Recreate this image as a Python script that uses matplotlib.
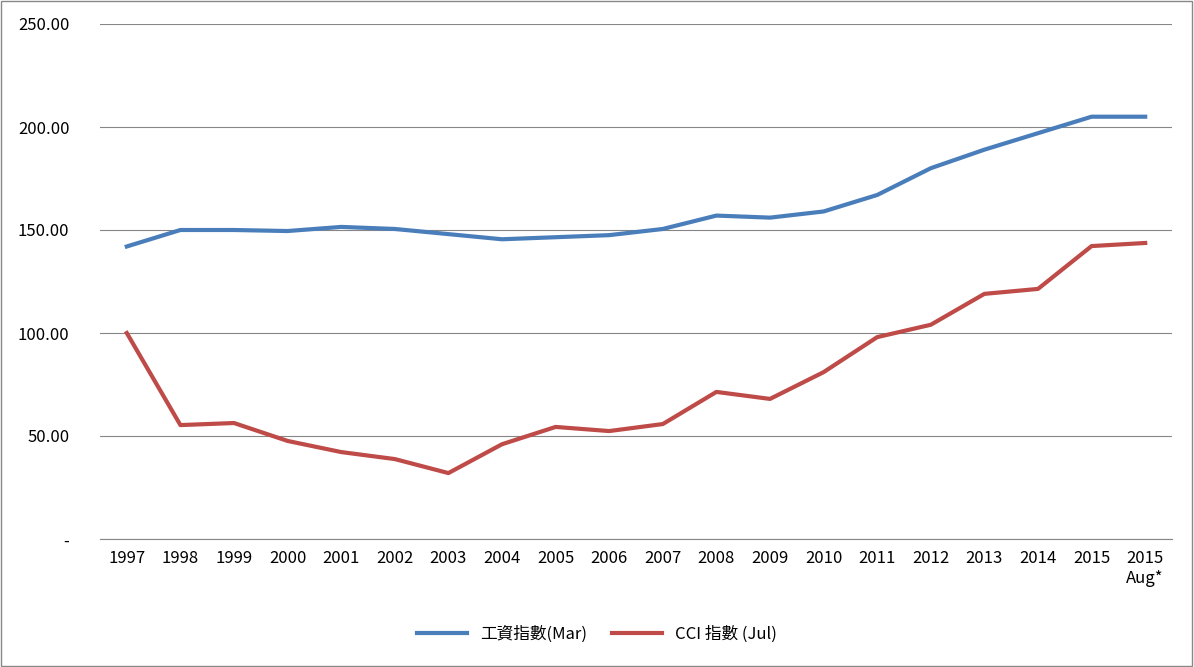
import matplotlib.pyplot as plt
from matplotlib.ticker import FuncFormatter

plt.rcParams['font.family'] = ['Noto Sans CJK TC', 'DejaVu Sans']

years = ['1997', '1998', '1999', '2000', '2001', '2002', '2003', '2004', '2005', '2006',
         '2007', '2008', '2009', '2010', '2011', '2012', '2013', '2014', '2015', '2015\nAug*']
wage_index = [142, 150, 150, 149.5, 151.5, 150.5, 148, 145.5, 146.5, 147.5,
              150.5, 157, 156, 159, 167, 180, 189, 197, 205, 205]
cci_index = [100, 55.3, 56.3, 47.6, 42.2, 38.8, 32, 46, 54.4, 52.4,
             55.8, 71.4, 68, 81, 98, 104, 119, 121.4, 142.2, 143.7]

fig = plt.figure(figsize=(11.94, 6.67), dpi=100)
ax = fig.add_axes([100/1194, 128/667, 1072/1194, 515/667])
fig.patches.append(plt.Rectangle((0.0005, 0.001), 0.998, 0.997, transform=fig.transFigure,
                                 fill=False, edgecolor='#888888', linewidth=1))

x = list(range(len(years)))
ax.plot(x, wage_index, color='#4a7ebb', linewidth=3, label='工資指數(Mar)')
ax.plot(x, cci_index, color='#be4b48', linewidth=3, label='CCI 指數 (Jul)')

ax.set_ylim(0, 250)
ax.set_yticks([0, 50, 100, 150, 200, 250])
ax.yaxis.set_major_formatter(FuncFormatter(lambda v, p: '-' if v == 0 else f'{v:.2f}'))
ax.set_xlim(-0.5, len(years) - 0.5)
ax.set_xticks(x)
ax.set_xticklabels(years)
last = ax.get_xticklabels()[-1]
last.set_multialignment('right')
last.set_horizontalalignment('left')
last.set_x(x[-1])
ax.grid(axis='y', color='#868686', linewidth=0.8)
ax.set_axisbelow(True)
for s in ['left', 'right', 'top']:
    ax.spines[s].set_visible(False)
ax.spines['bottom'].set_color('#868686')
ax.tick_params(axis='both', length=0, labelsize=12, pad=8)
ax.tick_params(axis='y', pad=22)

fig.canvas.draw()
# shift the last label so "2015" stays centred on its tick while "Aug*" is right-aligned
import matplotlib.transforms as mtrans
bb = last.get_window_extent()
from matplotlib.text import Text
w2015 = Text(0, 0, '2015', fontsize=12, figure=fig).get_window_extent(fig.canvas.get_renderer()).width
last.set_transform(last.get_transform() + mtrans.ScaledTranslation(
    -(bb.width - (bb.width - w2015) - w2015 / 2) / 100 - (bb.width - w2015) / 100, 0, fig.dpi_scale_trans))

fig.legend(loc='center', bbox_to_anchor=(0.5, 1 - 634/667), ncol=2, frameon=False,
           fontsize=12, handlelength=3, columnspacing=1.5)

fig.savefig('out.png', dpi=100)
